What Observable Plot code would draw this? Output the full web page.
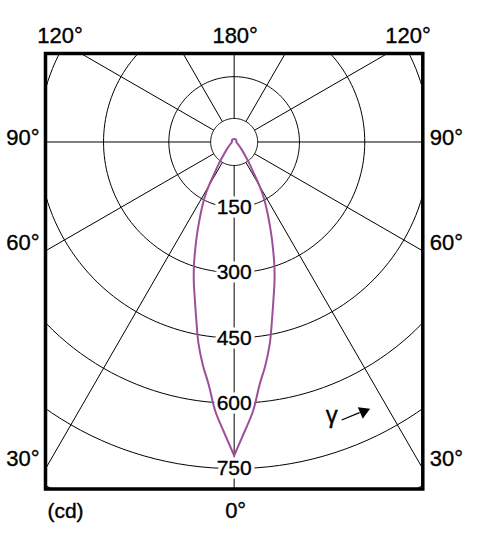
<!DOCTYPE html>
<html>
<head>
<meta charset="utf-8">
<script src="https://cdn.jsdelivr.net/npm/d3@7"></script>
<script src="https://cdn.jsdelivr.net/npm/@observablehq/plot@0.6"></script>
<style>
  html, body { margin: 0; padding: 0; background: #fff; }
</style>
</head>
<body>
<div id="chart"></div>
<script>
// ---- data ----
const gammaDeg    = [0, 2, 4, 6, 8, 10, 12, 14, 16, 18, 20, 22, 25, 28, 30, 32, 35, 40, 45, 50, 60, 70, 80, 90, 120, 150, 180];
const intensityCd = [720, 667, 620, 560, 517, 471, 418, 373, 336, 299, 261, 227, 182, 145, 116, 86, 62, 36, 24, 17, 10, 7, 6, 5, 6, 7, 7];
const ringValues  = [150, 300, 450, 600, 750, 900];
const ringLabels  = ["150", "300", "450", "600", "750"];
const spokeAngles = [0, 30, 60, 90, 120, 150, 180, 210, 240, 270, 300, 330];
const angleLabels = ["120°", "180°", "120°", "90°", "90°", "60°", "60°", "30°", "30°", "0°"];
const unitLabel   = "(cd)";
const gammaSymbol = "γ";

// ---- helpers ----
const rad = d => d * Math.PI / 180;
const polar = (g, v) => ({x: v * Math.sin(rad(g)), y: -v * Math.cos(rad(g))});
const holeCd = 54;      // small centre circle
const spokeEnd = 1400;  // spokes run out past the frame and are clipped

// closed curve: left half 0→180, right half 180→0
const curvePts = [];
gammaDeg.forEach((g, i) => curvePts.push(polar(-g, intensityCd[i])));
for (let i = gammaDeg.length - 2; i >= 0; --i) curvePts.push(polar(gammaDeg[i], intensityCd[i]));

const ringPts = [];
[holeCd, ...ringValues].forEach(v => {
  for (let a = 0; a <= 360; a += 2) ringPts.push({ring: v, ...polar(a, v)});
});

const angleLayout = [
  {frameAnchor: "top-left",     dx: 14.5,  dy: -18},
  {frameAnchor: "top",          dx: 1,     dy: -18},
  {frameAnchor: "top-right",    dx: -14.8, dy: -18},
  {frameAnchor: "top-left",     dx: -22.5, dy: 84.5},
  {frameAnchor: "top-right",    dx: 23.7,  dy: 84.5},
  {frameAnchor: "top-left",     dx: -22.5, dy: 189.5},
  {frameAnchor: "top-right",    dx: 23.7,  dy: 189.5},
  {frameAnchor: "bottom-left",  dx: -22.5, dy: -30},
  {frameAnchor: "bottom-right", dx: 23.7,  dy: -30},
  {frameAnchor: "bottom",       dx: 1.5,   dy: 21.5}
];

const ink = "#000";
const curveColor = "#9c4f98";
const weight = {stroke: ink, strokeWidth: 0.35};

const chart = Plot.plot({
  width: 477,
  height: 556,
  marginLeft: 45,
  marginRight: 54.7,
  marginTop: 53,
  marginBottom: 67.5,
  x: {type: "linear", domain: [-433.3, 433.3], axis: null},
  y: {type: "linear", domain: [-796.9, 203.2], axis: null},
  style: {fontFamily: "'Liberation Sans', Arial, sans-serif", background: "#fff", color: ink},
  marks: [
    Plot.line(ringPts, {x: "x", y: "y", z: "ring", stroke: ink, strokeWidth: 1, clip: "frame"}),
    Plot.link(spokeAngles, {
      x1: a => polar(a, holeCd).x, y1: a => polar(a, holeCd).y,
      x2: a => polar(a, spokeEnd).x, y2: a => polar(a, spokeEnd).y,
      stroke: ink, strokeWidth: 1, clip: "frame"
    }),
    Plot.text(ringLabels, {
      x: 0, y: d => -Number(d), text: d => d,
      fontSize: 21, fill: "#fff", stroke: "#fff", strokeWidth: 7,
      textAnchor: "middle", lineAnchor: "middle"
    }),
    Plot.text(ringLabels, {
      x: 0, y: d => -Number(d), text: d => d,
      fontSize: 21, fill: ink, ...weight,
      textAnchor: "middle", lineAnchor: "middle"
    }),
    Plot.line(curvePts, {x: "x", y: "y", stroke: curveColor, strokeWidth: 2, curve: "catmull-rom"}),
    ...angleLabels.map((t, i) => Plot.text([t], {
      text: d => d, ...angleLayout[i], fontSize: 22, fill: ink, ...weight,
      textAnchor: "middle", lineAnchor: "middle"
    })),
    Plot.text([unitLabel], {
      text: d => d, frameAnchor: "bottom-left", dx: 20, dy: 22,
      fontSize: 21, fill: ink, ...weight, textAnchor: "middle", lineAnchor: "middle"
    }),
    // gamma direction annotation
    Plot.text([gammaSymbol], {x: 223.9, y: -627, text: d => d, fontSize: 24, fill: ink, ...weight, textAnchor: "middle", lineAnchor: "middle"}),
    Plot.link([0], {x1: 246.9, y1: -638.4, x2: 288, y2: -621.5, stroke: ink, strokeWidth: 1.3}),
    Plot.dot([0], {x: 297.2, y: -619.1, symbol: "triangle", r: 4.6, rotate: 66.4, fill: ink, stroke: "none"}),
    Plot.frame({stroke: ink, strokeWidth: 3.5})
  ]
});
document.getElementById("chart").appendChild(chart);
</script>
</body>
</html>
